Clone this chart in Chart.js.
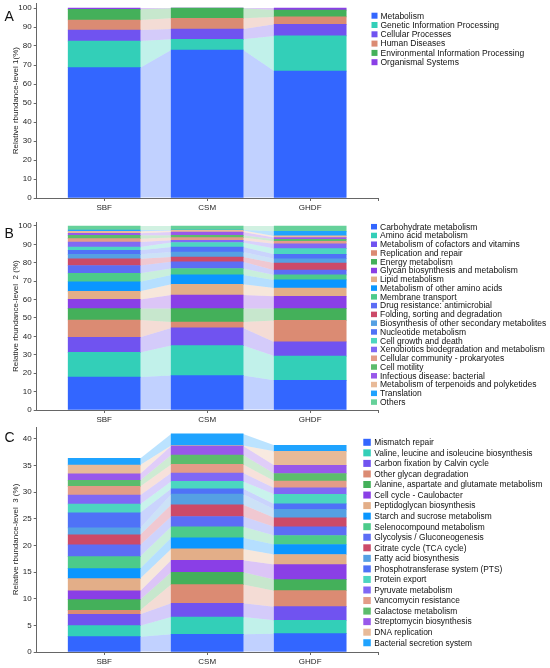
<!DOCTYPE html>
<html>
<head>
<meta charset="utf-8">
<script src="https://cdn.jsdelivr.net/npm/chart.js@4.4.1/dist/chart.umd.min.js"></script>
<style>
  html, body { margin: 0; padding: 0; background: #fff; }
  body { width: 550px; height: 668px; position: relative; overflow: hidden; }
  .panel { position: absolute; left: 0; width: 550px; }
</style>
</head>
<body>
<div class="panel" style="top:-10px;height:228px"><canvas id="chartA"></canvas></div>
<div class="panel" style="top:212px;height:218px"><canvas id="chartB"></canvas></div>
<div class="panel" style="top:417px;height:255px"><canvas id="chartC"></canvas></div>
<script>
const samples = ['SBF', 'CSM', 'GHDF'];

// level 1
const level1Labels = ['Metabolism', 'Genetic Information Processing', 'Cellular Processes',
  'Human Diseases', 'Environmental Information Processing', 'Organismal Systems'];
const level1SBF = [68.6, 14.0, 5.8, 5.3, 5.6, 0.7];
const level1CSM = [77.9, 5.6, 5.4, 5.7, 5.3, 0.1];
const level1GHDF = [66.8, 18.5, 6.1, 3.9, 3.6, 1.1];

// level 2
const level2Labels = ['Carbohydrate metabolism', 'Amino acid metabolism', 'Metabolism of cofactors and vitamins',
  'Replication and repair', 'Energy metabolism', 'Glycan biosynthesis and metabolism', 'Lipid metabolism',
  'Metabolism of other amino acids', 'Membrane transport', 'Drug resistance: antimicrobial',
  'Folding, sorting and degradation', 'Biosynthesis of other secondary metabolites', 'Nucleotide metabolism',
  'Cell growth and death', 'Xenobiotics biodegradation and metabolism', 'Cellular community - prokaryotes',
  'Cell motility', 'Infectious disease: bacterial', 'Metabolism of terpenoids and polyketides',
  'Translation', 'Others'];
const level2SBF = [17.9, 13.4, 8.2, 9.4, 6.2, 5.0, 4.4, 5.2, 4.6, 4.2, 3.7, 2.4, 2.2, 1.8, 2.7, 1.8, 1.8, 1.1, 1.1, 0.7, 2.2];
const level2CSM = [18.7, 16.3, 9.6, 3.2, 7.3, 7.4, 5.8, 5.1, 3.5, 3.6, 2.6, 2.7, 2.8, 2.4, 1.2, 1.5, 1.2, 1.8, 0.9, 0.2, 2.2];
const level2GHDF = [16.1, 13.2, 7.7, 11.7, 6.4, 6.7, 4.5, 4.4, 2.7, 2.6, 3.9, 2.3, 2.4, 3.1, 2.6, 1.4, 1.1, 0.9, 0.9, 2.5, 2.9];

// level 3
const level3Labels = ['Mismatch repair', 'Valine, leucine and isoleucine biosynthesis', 'Carbon fixation by Calvin cycle',
  'Other glycan degradation', 'Alanine, aspartate and glutamate metabolism', 'Cell cycle - Caulobacter',
  'Peptidoglycan biosynthesis', 'Starch and sucrose metabolism', 'Selenocompound metabolism',
  'Glycolysis / Gluconeogenesis', 'Citrate cycle (TCA cycle)', 'Fatty acid biosynthesis',
  'Phosphotransferase system (PTS)', 'Protein export', 'Pyruvate metabolism', 'Vancomycin resistance',
  'Galactose metabolism', 'Streptomycin biosynthesis', 'DNA replication', 'Bacterial secretion system'];
const level3SBF = [2.88, 2.06, 2.13, 0.75, 2.0, 1.63, 2.32, 1.88, 2.25, 2.19, 1.88, 1.31, 2.82, 1.63, 1.69, 1.63, 1.13, 1.25, 1.63, 1.25];
const level3CSM = [3.32, 3.25, 2.57, 3.5, 2.32, 2.25, 2.13, 2.07, 2.07, 1.94, 2.19, 2.0, 1.0, 1.38, 1.56, 1.63, 1.75, 1.69, 0.1, 2.19];
const level3GHDF = [3.44, 2.5, 2.57, 3.0, 2.07, 2.82, 1.88, 1.88, 1.69, 1.63, 1.7, 1.6, 1.0, 1.8, 1.2, 1.3, 1.4, 1.53, 2.63, 1.14];

const palette = ['#3366ff', '#33cfb8', '#7053f0', '#db8b73', '#44b05a', '#8a3fe6', '#e3ae88',
  '#0a96ff', '#4ccb8a', '#5c6df5', '#cc4a68', '#55a0e3', '#4f72f7', '#4cd6c0', '#8068f5',
  '#e39c88', '#5cbc6c', '#9858ea', '#e8ba98', '#1fa3ff', '#66d19a'];

const font = '"Liberation Sans", Arial, sans-serif';
const axisColor = '#666';
const textColor = '#1e1e1e';
Chart.defaults.font.family = font;

function fade(hex, a) {
  const n = parseInt(hex.slice(1), 16);
  return 'rgba(' + (n >> 16) + ',' + ((n >> 8) & 255) + ',' + (n & 255) + ',' + a + ')';
}

// light ribbons joining the same segment of neighbouring bars
const flowBands = {
  id: 'flowBands',
  beforeDatasetsDraw(chart) {
    const ctx = chart.ctx;
    chart.data.datasets.forEach((ds, di) => {
      const bars = chart.getDatasetMeta(di).data;
      ctx.save();
      ctx.fillStyle = ds.bandColor;
      for (let i = 0; i < bars.length - 1; i++) {
        const a = bars[i], b = bars[i + 1];
        const ax = a.x + a.width / 2, bx = b.x - b.width / 2;
        ctx.beginPath();
        ctx.moveTo(ax, a.y);
        ctx.lineTo(bx, b.y);
        ctx.lineTo(bx, b.base);
        ctx.lineTo(ax, a.base);
        ctx.closePath();
        ctx.fill();
      }
      ctx.restore();
    });
  }
};

const sideLegend = {
  id: 'sideLegend',
  afterDraw(chart, args, opts) {
    const ctx = chart.ctx;
    ctx.save();
    ctx.font = opts.fontSize + 'px ' + font;
    ctx.textBaseline = 'middle';
    chart.data.datasets.forEach((ds, i) => {
      const cy = opts.top + i * opts.step;
      ctx.fillStyle = ds.backgroundColor;
      ctx.fillRect(opts.left, cy - opts.boxH / 2, opts.boxW, opts.boxH);
      ctx.fillStyle = '#111';
      ctx.fillText(ds.label, opts.textLeft, cy + 0.5);
    });
    ctx.restore();
  }
};

const panelLetter = {
  id: 'panelLetter',
  afterDraw(chart, args, opts) {
    const ctx = chart.ctx;
    ctx.save();
    ctx.font = '14px ' + font;
    ctx.fillStyle = '#111';
    ctx.fillText(opts.text, 4.5, opts.y);
    ctx.restore();
  }
};

const xMin = -0.655, xMax = 2.665;

function makeChart(id, labels, cols, yMax, yStep, yTitle, letter, padTop, legendOpts) {
  const datasets = labels.map((name, i) => ({
    label: name,
    data: cols.map((c, j) => ({ x: j, y: c[i] })),
    backgroundColor: palette[i % palette.length],
    bandColor: fade(palette[i % palette.length], 0.3),
    borderWidth: 0,
    barThickness: 72
  }));
  return new Chart(document.getElementById(id), {
    type: 'bar',
    data: { datasets },
    plugins: [flowBands, sideLegend, panelLetter],
    options: {
      responsive: true,
      maintainAspectRatio: false,
      animation: false,
      layout: { padding: { top: padTop, right: 550 - 378.7, bottom: 0, left: 0 } },
      plugins: {
        legend: { display: false },
        tooltip: { enabled: false },
        sideLegend: legendOpts,
        panelLetter: letter
      },
      scales: {
        x: {
          type: 'linear',
          stacked: true,
          offset: false,
          min: xMin,
          max: xMax,
          afterBuildTicks: s => { s.ticks = [0, 1, 2, xMax].map(v => ({ value: v })); },
          afterFit: s => { s.height = 20; },
          ticks: {
            callback: v => samples[v] ?? '',
            autoSkip: false, maxRotation: 0, padding: 2,
            color: textColor, font: { size: 8 }
          },
          grid: { offset: false, drawOnChartArea: false, tickLength: 3, color: axisColor },
          border: { color: axisColor, width: 1 }
        },
        y: {
          stacked: true,
          min: 0,
          max: yMax,
          afterFit: s => { s.width = 36.7; },
          ticks: { stepSize: yStep, includeBounds: false, padding: 2, color: textColor, font: { size: 8 } },
          grid: { drawOnChartArea: false, tickLength: 3, color: axisColor },
          border: { color: axisColor, width: 1 },
          title: { display: true, text: yTitle, color: textColor, font: { size: 8 }, padding: { top: 11, bottom: 0 } }
        }
      }
    }
  });
}

makeChart('chartA', level1Labels, [level1SBF, level1CSM, level1GHDF], 102.5, 10,
  'Relative rbundance-level 1(%)', { text: 'A', y: 30.7 }, 13.25,
  { left: 371.5, textLeft: 380.5, top: 25.7, step: 9.3, boxW: 6, boxH: 6, fontSize: 8.5 });

makeChart('chartB', level2Labels, [level2SBF, level2CSM, level2GHDF], 102, 10,
  'Relative rbundance-level  2 (%)', { text: 'B', y: 25.7 }, 10.3,
  { left: 371, textLeft: 380, top: 14.7, step: 8.77, boxW: 6, boxH: 5.5, fontSize: 8.5 });

makeChart('chartC', level3Labels, [level3SBF, level3CSM, level3GHDF], 42.2, 5,
  'Relative rbundance-level  3 (%)', { text: 'C', y: 25.3 }, 10,
  { left: 363.3, textLeft: 374.3, top: 25.3, step: 10.55, boxW: 7.5, boxH: 7, fontSize: 8.4 });
</script>
</body>
</html>
